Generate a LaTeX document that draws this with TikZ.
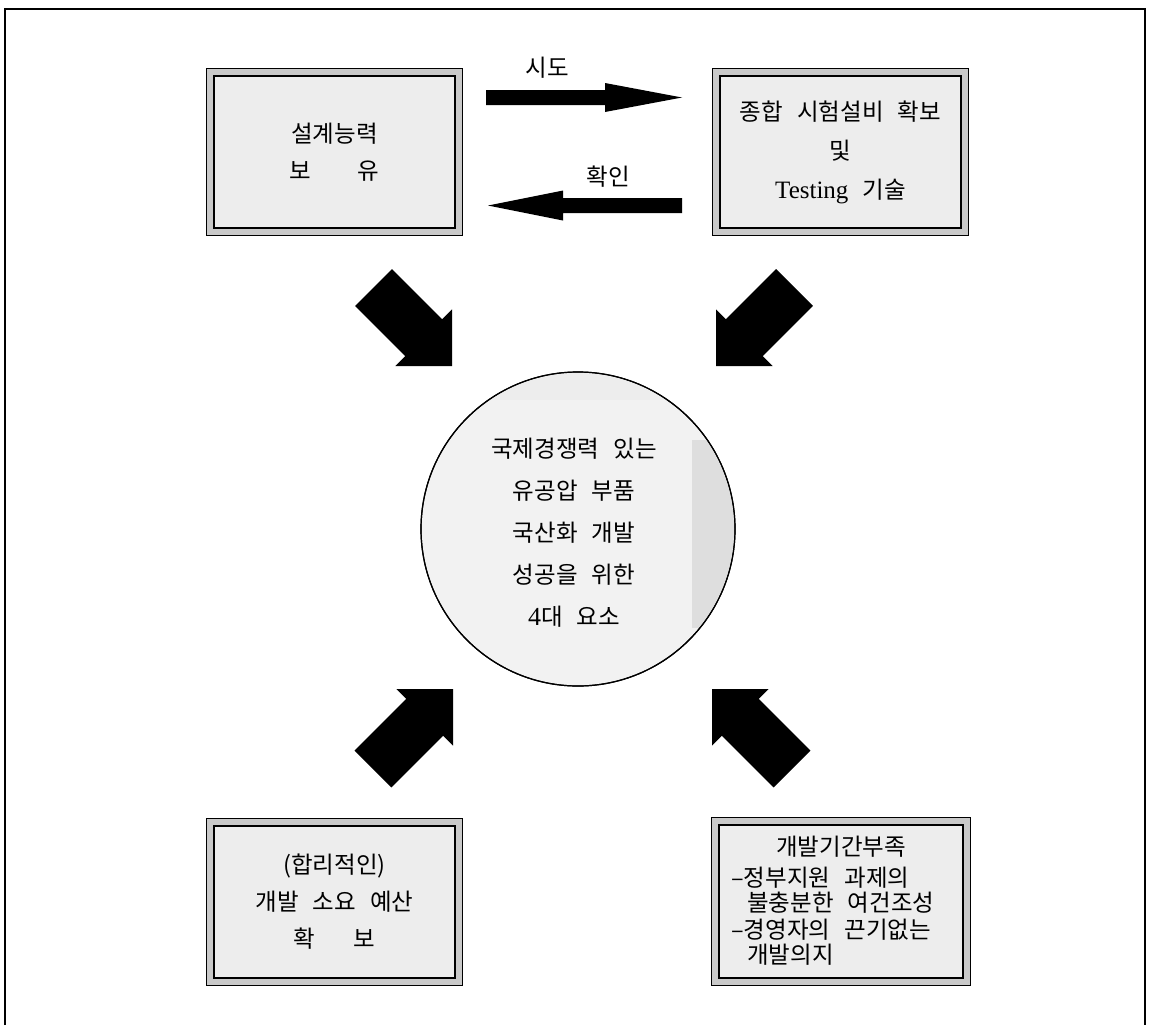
\documentclass[tikz,border=0pt]{standalone}
\usepackage{fontspec}
\setmainfont{Liberation Serif}
\newfontfamily\kr{Noto Sans CJK KR}
\usetikzlibrary{calc,backgrounds}
\newcommand\ksp{\hspace{0.6em}}
\newcommand\blockarr[5]{%
  \coordinate (ba-h) at ($(#2)!#5pt!(#1)$);
  \fill[black] ($(#1)!#3pt!90:(#2)$) -- ($(ba-h)!#3pt!90:(#2)$) -- ($(ba-h)!#4pt!90:(#2)$) -- (#2)
    -- ($(ba-h)!#4pt!-90:(#2)$) -- ($(ba-h)!#3pt!-90:(#2)$) -- ($(#1)!#3pt!-90:(#2)$) -- cycle;}
\tikzset{
  inbox/.style={draw, line width=1.6pt, fill=gray!14, minimum width=241pt, minimum height=152pt,
    inner sep=0pt, align=center, font=\kr\fontsize{23.5}{37}\selectfont},
  band/.style={draw, line width=1.1pt, fill=gray!42},
  lab/.style={font=\kr\fontsize{23.5}{27}\selectfont, inner sep=0pt},
}
\begin{document}
\begin{tikzpicture}[x=1pt,y=-1pt]
\useasboundingbox (0,0) rectangle (1153,1025);
% outer frame
\draw[line width=2.5pt] (5,1025) -- (5,9) -- (1145,9) -- (1145,1025);

% boxes
\node[inbox] (b1) at (334.5,152) {설계능력\\보\hspace{46pt}유};
\node[inbox, font=\kr\fontsize{23.5}{39}\selectfont] (b2) at (840.5,152)
  {종합\ksp 시험설비\ksp 확보\\및\\{\rmfamily\fontsize{25}{39}\selectfont Testing}\ksp 기술};
\node[inbox] (b3) at (334.5,902) {(합리적인)\\개발\ksp 소요\ksp 예산\\확\hspace{39pt}보};
\node[inbox, minimum width=244pt, minimum height=153pt] (b4) at (841,901.5) {};
\node[lab] (b4a) at (841,847) {개발기간부족};
\node[lab, anchor=west] (b4b) at (731,878) {–정부지원\ksp 과제의};
\node[lab, anchor=west] (b4c) at (747,903) {불충분한\ksp 여건조성};
\node[lab, anchor=west] (b4d) at (731,930) {–경영자의\ksp 끈기없는};
\node[lab, anchor=west] (b4e) at (747,955) {개발의지};

\begin{scope}[on background layer]
  \foreach \b in {b1,b2,b3,b4}
    \draw[band] ([shift={(-7,-7)}]\b.north west) rectangle ([shift={(7,7)}]\b.south east);
\end{scope}

% circle
\node[circle, draw, line width=1.2pt, fill=gray!10, minimum size=314pt, inner sep=0pt] (c) at (578,529) {};
\begin{scope}
  \clip (578,529) circle[radius=156pt];
  \fill[gray!26] (692,440) rectangle (740,628);
  \fill[gray!14] (470,372) rectangle (680,400);
\end{scope}
\draw[line width=1.2pt] (c) circle[radius=157pt];
\node[align=center, inner sep=0pt, font=\kr\fontsize{23.5}{42}\selectfont] (ct) at (574,533)
  {국제경쟁력\ksp 있는\\유공압\ksp 부품\\국산화\ksp 개발\\성공을\ksp 위한\\{\rmfamily\fontsize{26}{42}\selectfont 4}대\ksp 요소};

% horizontal arrows
\coordinate (sd-t) at (486,97.5);
\coordinate (sd-h) at (682,97.5);
\blockarr{sd-t}{sd-h}{7.5}{14.5}{77}
\node[lab] (l-sd) at (547,68) {시도};
\coordinate (hi-t) at (682,205.5);
\coordinate (hi-h) at (488,205.5);
\blockarr{hi-t}{hi-h}{7.5}{15}{75}
\node[lab] (l-hi) at (608,177) {확인};

% diagonal block arrows
\coordinate (ul-t) at (373.5,287.5);
\coordinate (ul-h) at (452,366);
\blockarr{ul-t}{ul-h}{26}{40}{40}
\coordinate (ur-t) at (794.5,287.5);
\coordinate (ur-h) at (716,366);
\blockarr{ur-t}{ur-h}{26}{40}{40}
\coordinate (ll-t) at (373,769);
\coordinate (ll-h) at (453,689);
\blockarr{ll-t}{ll-h}{26}{40}{40}
\coordinate (lr-t) at (792,769);
\coordinate (lr-h) at (712,689);
\blockarr{lr-t}{lr-h}{26}{40}{40}
\end{tikzpicture}
\end{document}
